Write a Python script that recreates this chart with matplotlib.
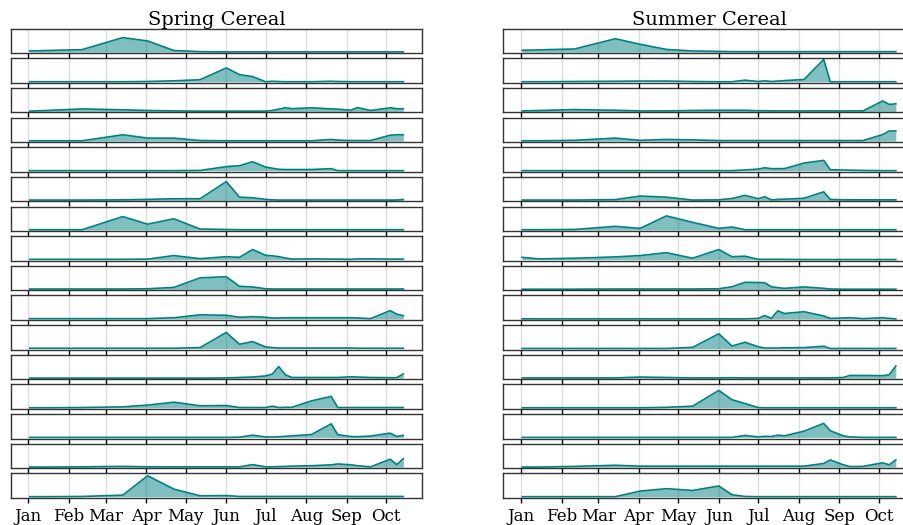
import pandas as pd
import matplotlib.pyplot as plt
import matplotlib.dates as mdates

plt.rcParams['font.family'] = 'DejaVu Serif'

# Acquisition dates (shared by all panels)
dates = ["2019-01-02", "2019-01-15", "2019-02-11", "2019-03-14", "2019-04-02",
         "2019-04-22", "2019-05-12", "2019-06-01", "2019-06-11", "2019-06-21",
         "2019-07-01", "2019-07-06", "2019-07-11", "2019-07-16", "2019-07-21",
         "2019-08-05", "2019-08-20", "2019-08-25", "2019-09-04", "2019-09-09",
         "2019-09-19", "2019-10-04", "2019-10-09", "2019-10-14"]

titles = ["Spring Cereal", "Summer Cereal"]

# Spring cereal rows (top to bottom)
sp01 = [.05, .07, .11, .65, .50, .07, .02, .01, .01, .01, .01, .01, .01, .01, .01, .01, .01, .01, .01, .01, .01, .01, .01, .01]
sp02 = [0, 0, 0, 0, .01, .04, .09, .62, .32, .23, 0, .02, .01, 0, 0, 0, .02, .01, 0, 0, 0, 0, 0, 0]
sp03 = [.01, .04, .11, .07, .04, .02, .01, .01, .01, .01, .01, .04, .10, .16, .12, .16, .11, .10, .05, .17, .04, .16, .12, .12]
sp04 = [.01, .01, .01, .28, .13, .13, .02, .01, .01, .01, .01, .01, .01, .01, .01, .01, .07, .04, .02, .02, .02, .26, .28, .28]
sp05 = [0, 0, 0, 0, 0, 0, .01, .18, .22, .40, .16, .11, .06, .05, .05, .05, .09, 0, 0, 0, 0, 0, 0, 0]
sp06 = [.01, .01, .01, .02, .04, .07, .07, .84, .14, .11, .04, .02, .01, .01, .01, .01, .01, .01, .01, .01, .01, .01, .01, .04]
sp07 = [.01, .01, .01, .60, .26, .50, .04, .02, .01, .01, .01, .01, .01, .01, .01, .01, .01, .01, .01, .01, .01, .01, .01, .01]
sp08 = [.01, .01, .01, .01, .02, .18, .04, .13, .10, .45, .19, .17, .13, .07, .02, .03, .02, .02, .01, .03, .03, .02, .02, .02]
sp09 = [.01, .01, .01, .01, .02, .08, .51, .56, .13, .10, .02, .01, .01, .01, .01, .01, .01, .01, .01, .01, .01, .01, .01, .01]
sp10 = [.01, .01, .01, .01, .01, .05, .18, .16, .07, .10, .07, .04, .04, .05, .05, .05, .05, .05, .05, .04, .01, .37, .21, .14]
sp11 = [.01, .01, .01, .01, .01, .01, .04, .72, .19, .31, .07, .04, .02, .02, .02, .02, .02, .02, .02, .01, .01, .01, .01, .01]
sp12 = [0, 0, 0, 0, 0, 0, 0, .01, .03, .05, .10, .18, .52, .15, .03, .03, .03, .03, .06, .05, .03, .02, .02, .19]
sp13 = [0, 0, .01, .04, .12, .25, .09, .10, .01, .01, .01, .07, .01, .02, .02, .31, .51, .01, .01, .01, .01, .01, .01, .01]
sp14 = [0, 0, 0, 0, 0, 0, 0, 0, .01, .10, .02, .02, .03, .05, .07, .13, .61, .12, .04, .03, .06, .19, .04, .09]
sp15 = [0, 0, .01, .03, .01, .01, .01, .01, .01, .11, .01, .01, .02, .03, .04, .06, .10, .14, .10, .06, .01, .35, .11, .38]
sp16 = [0, 0, .01, .07, .94, .34, .04, .05, .01, .01, .01, .01, .01, .01, .01, .01, .01, .01, .01, .01, .01, .01, .01, .01]

# Summer cereal rows (top to bottom)
su01 = [.08, .10, .14, .60, .35, .12, .05, .03, .02, .02, .02, .02, .02, .02, .02, .02, .02, .02, .02, .02, .02, .02, .02, .02]
su02 = [0, 0, .01, .02, .03, .03, .01, 0, 0, .07, .01, .04, .01, .03, .05, .10, 1.0, 0, 0, 0, 0, 0, 0, 0]
su03 = [.02, .04, .08, .05, .02, .02, .04, .05, .05, .05, .03, .03, .02, .02, .02, .02, .02, .02, .02, .02, .02, .47, .31, .34]
su04 = [.01, .01, .03, .13, .03, .07, .05, .02, .02, .02, .02, .02, .02, .02, .02, .02, .02, .02, .02, .02, .02, .29, .45, .45]
su05 = [0, 0, 0, 0, 0, 0, 0, 0, 0, .03, .07, .13, .09, .09, .09, .34, .46, .04, .03, .02, .01, 0, 0, 0]
su06 = [.01, .01, .01, .03, .19, .14, .01, .02, .08, .22, .07, .16, .02, .04, .05, .09, .38, .04, .02, .02, .02, .02, .02, .02]
su07 = [.01, .01, .02, .16, .07, .63, .34, .07, .13, .01, .01, .01, .01, .01, .01, .01, .01, .01, .01, .01, .01, .01, .01, .01]
su08 = [.10, .03, .06, .12, .18, .31, .06, .45, .13, .15, .01, .01, .01, .01, .01, 0, 0, 0, 0, 0, 0, 0, 0, 0]
su09 = [0, 0, 0, .01, .01, .01, .01, .02, .11, .31, .30, .29, .11, .07, .04, .10, .04, .01, 0, 0, 0, 0, 0, 0]
su10 = [0, 0, 0, 0, 0, 0, 0, 0, 0, 0, .02, .15, .02, .36, .24, .32, .13, .02, .04, .05, .01, .05, .02, 0]
su11 = [0, 0, 0, 0, 0, 0, .05, .66, .11, .28, .08, .02, .02, .02, .03, .04, .10, 0, 0, 0, 0, 0, 0, 0]
su12 = [.01, .01, .01, .01, .05, .03, .01, .01, .02, .01, .01, .01, .01, .01, .01, .01, .01, .01, .03, .12, .12, .11, .15, .54]
su13 = [0, 0, 0, 0, 0, .02, .07, .78, .36, .19, .01, 0, 0, 0, 0, 0, 0, 0, 0, 0, 0, 0, 0, 0]
su14 = [0, 0, 0, 0, 0, 0, 0, 0, 0, .09, .02, .05, .04, .10, .07, .28, .63, .30, .07, .02, 0, 0, 0, 0]
su15 = [0, 0, .03, .08, .04, .04, .04, .04, .04, .04, .04, .04, .04, .04, .04, .04, .16, .32, .10, .02, .03, .19, .10, .32]
su16 = [0, 0, 0, 0, .25, .36, .28, .48, .09, .01, 0, 0, 0, 0, 0, 0, 0, 0, 0, 0, 0, 0, 0, 0]

spring = [sp01, sp02, sp03, sp04, sp05, sp06, sp07, sp08,
          sp09, sp10, sp11, sp12, sp13, sp14, sp15, sp16]
summer = [su01, su02, su03, su04, su05, su06, su07, su08,
          su09, su10, su11, su12, su13, su14, su15, su16]

x = pd.to_datetime(dates)

fig = plt.figure(figsize=(9.04, 5.25), dpi=100)
W, H = 904, 525
col_left = [11, 503.5]
ax_w = 411
row_top0 = 28.7
row_pitch = 29.64
ax_h = 24.5

for c, (title, series) in enumerate(zip(titles, [spring, summer])):
    for r, y in enumerate(series):
        top = row_top0 + r * row_pitch
        ax = fig.add_axes([col_left[c] / W, 1 - (top + ax_h) / H, ax_w / W, ax_h / H])
        ax.fill_between(x, 0, y, color='teal', alpha=0.5, linewidth=0)
        ax.plot(x, y, color='teal', linewidth=1.2)
        ax.set_ylim(-0.05, 1.05)
        ax.set_yticks([])
        ax.xaxis.set_major_locator(mdates.MonthLocator())
        ax.xaxis.set_major_formatter(mdates.DateFormatter('%b'))
        ax.grid(True, axis='x', color='#dddddd', linewidth=1)
        ax.set_axisbelow(True)
        ax.tick_params(axis='x', direction='out', length=3.5, width=1,
                       color='black', labelsize=12)
        for s in ax.spines.values():
            s.set_color('#333333')
            s.set_linewidth(1)
        if r < len(series) - 1:
            ax.set_xticklabels([])
        if r == 0:
            ax.set_title(title, fontsize=14, pad=3)

plt.savefig("out.png", dpi=100)
